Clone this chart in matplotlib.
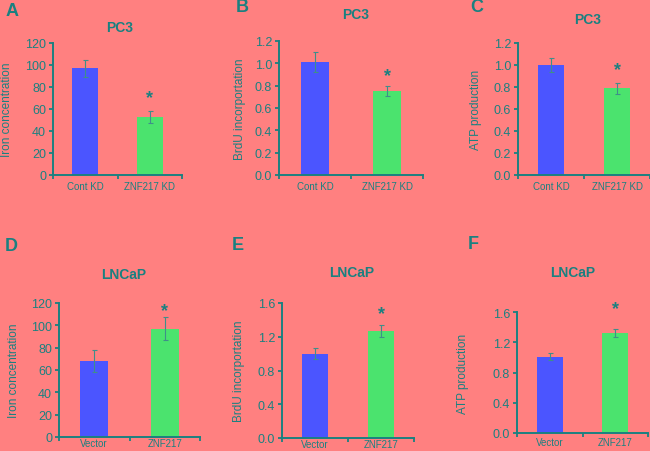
import matplotlib
matplotlib.use("Agg")
import matplotlib.pyplot as plt

plt.rcParams['font.family'] = ['Liberation Sans', 'DejaVu Sans']

# ---- data ----
pc3_categories = ["Cont KD", "ZNF217 KD"]
lncap_categories = ["Vector", "ZNF217"]

iron_pc3 = [97, 53]
iron_pc3_err = [7.5, 5.6]
brdu_pc3 = [1.01, 0.75]
brdu_pc3_err = [0.09, 0.047]
atp_pc3 = [1.00, 0.79]
atp_pc3_err = [0.06, 0.05]

iron_lncap = [68, 97]
iron_lncap_err = [9.5, 10.4]
brdu_lncap = [1.0, 1.27]
brdu_lncap_err = [0.067, 0.07]
atp_lncap = [1.01, 1.32]
atp_lncap_err = [0.044, 0.055]

BG = '#FF8080'
TEAL = '#1A8080'
BLUE = '#4B55FF'
GREEN = '#4BE36E'
ERR = '#3F8F8A'

W, H = 650, 452
fig = plt.figure(figsize=(W / 100, H / 100), dpi=100, facecolor=BG)


def fx(px):
    return px / W


def fy(py):
    return 1 - py / H


panels = [
    dict(letter='A', title='PC3', cats=pc3_categories, vals=iron_pc3, errs=iron_pc3_err,
         ylabel='Iron concentration', yticks=[0, 20, 40, 60, 80, 100, 120], fmt='{:.0f}',
         box=(53, 182, 44, 176), lpos=(6, 12), tpos=(120, 28), ylx=7, star=70, xpad=4),
    dict(letter='B', title='PC3', cats=pc3_categories, vals=brdu_pc3, errs=brdu_pc3_err,
         ylabel='BrdU incorportation', yticks=[0.0, 0.2, 0.4, 0.6, 0.8, 1.0, 1.2], fmt='{:.1f}',
         box=(279, 423, 42, 176), lpos=(236, 8), tpos=(356, 15), ylx=240, star=0.89, xpad=4),
    dict(letter='C', title='PC3', cats=pc3_categories, vals=atp_pc3, errs=atp_pc3_err,
         ylabel='ATP production', yticks=[0.0, 0.2, 0.4, 0.6, 0.8, 1.0, 1.2], fmt='{:.1f}',
         box=(518, 650, 44, 176), lpos=(470, 8), tpos=(588, 20), ylx=476, star=0.96, xpad=4),
    dict(letter='D', title='LNCaP', cats=lncap_categories, vals=iron_lncap, errs=iron_lncap_err,
         ylabel='Iron concentration', yticks=[0, 20, 40, 60, 80, 100, 120], fmt='{:.0f}',
         box=(59, 200, 304, 438), lpos=(5, 247), tpos=(124, 275), ylx=14, star=113, xpad=1),
    dict(letter='E', title='LNCaP', cats=lncap_categories, vals=brdu_lncap, errs=brdu_lncap_err,
         ylabel='BrdU incorportation', yticks=[0.0, 0.4, 0.8, 1.2, 1.6], fmt='{:.1f}',
         box=(282, 414, 304, 439), lpos=(232, 246), tpos=(352, 273), ylx=239, star=1.48, xpad=1),
    dict(letter='F', title='LNCaP', cats=lncap_categories, vals=atp_lncap, errs=atp_lncap_err,
         ylabel='ATP production', yticks=[0.0, 0.4, 0.8, 1.2, 1.6], fmt='{:.1f}',
         box=(517, 648, 313, 434), lpos=(468, 245), tpos=(573, 273), ylx=463, star=1.64, xpad=3),
]

for p in panels:
    l, r, t, b = p['box']
    ax = fig.add_axes([fx(l), fy(b), fx(r) - fx(l), fy(t) - fy(b)])
    ax.set_facecolor(BG)
    pos = [0.5, 1.5]
    ax.bar(pos, p['vals'], width=0.4, color=[BLUE, GREEN], zorder=2)
    ax.errorbar(pos, p['vals'], yerr=p['errs'], fmt='none', ecolor=ERR,
                elinewidth=0.8, capsize=1.8, capthick=0.8, zorder=3)
    ax.set_xlim(0, 2)
    ax.set_ylim(0, p['yticks'][-1])
    ax.set_yticks(p['yticks'])
    ax.set_yticklabels([p['fmt'].format(v) for v in p['yticks']])
    ax.set_xticks([0, 1, 2])
    ax.set_xticklabels([])
    ax.set_xticks(pos, minor=True)
    ax.set_xticklabels(p['cats'], minor=True)
    ax.tick_params(axis='x', which='minor', length=0, labelsize=7, colors=TEAL, pad=p['xpad'])
    ax.tick_params(axis='x', which='major', length=3, width=1.3, color=TEAL, direction='out')
    ax.tick_params(axis='y', length=3, width=1.3, color=TEAL, labelcolor=TEAL,
                   labelsize=9, direction='out', pad=2)
    for s in ['top', 'right']:
        ax.spines[s].set_visible(False)
    for s in ['left', 'bottom']:
        ax.spines[s].set_color(TEAL)
        ax.spines[s].set_linewidth(1.4)
    ax.text(1.5, p['star'], '*', ha='center', va='center', fontsize=13,
            fontweight='bold', color=TEAL)
    fig.text(fx(p['ylx']), fy((t + b) / 2), p['ylabel'], rotation=90, ha='center',
             va='center', fontsize=8.5, color=TEAL)
    fig.text(fx(p['tpos'][0]), fy(p['tpos'][1]), p['title'], ha='center', va='center',
             fontsize=10, fontweight='bold', color=TEAL)
    fig.text(fx(p['lpos'][0]), fy(p['lpos'][1]), p['letter'], ha='left', va='center',
             fontsize=13, fontweight='bold', color=TEAL)

fig.savefig('out.png', dpi=100, facecolor=BG)
